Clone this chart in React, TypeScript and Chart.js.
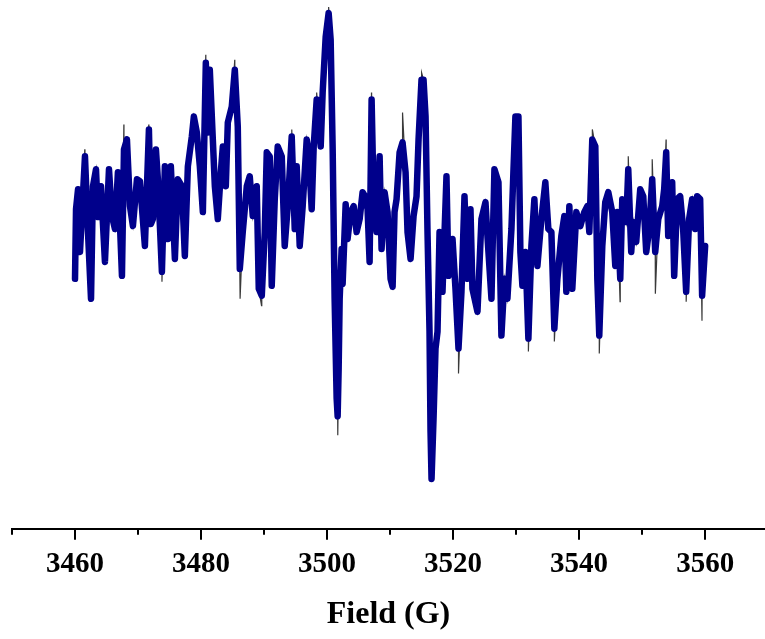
import React, { useEffect, useRef } from "react";
import { Chart, registerables } from "chart.js";

Chart.register(...registerables);

// Magnetic field (G) of each sample along the sweep
const fieldG: number[] = [
  3460.0, 3460.16, 3460.48, 3460.79, 3461.58, 3462.06, 3462.54, 3462.85, 3463.33, 3463.65,
  3464.12, 3464.75, 3465.39, 3465.86, 3466.34, 3466.81, 3467.45, 3467.77, 3468.24, 3468.72,
  3469.19, 3469.83, 3470.3, 3471.09, 3471.73, 3472.04, 3472.36, 3472.84, 3473.15, 3473.79,
  3474.26, 3474.74, 3475.21, 3475.85, 3476.32, 3476.96, 3477.43, 3477.91, 3478.54, 3478.86,
  3479.33, 3479.81, 3480.29, 3480.76, 3481.08, 3481.39, 3481.87, 3482.19, 3482.66, 3483.14,
  3483.46, 3483.93, 3484.25, 3484.88, 3485.36, 3485.83, 3486.15, 3486.62, 3487.26, 3487.73,
  3488.21, 3488.84, 3489.16, 3489.64, 3490.11, 3490.43, 3490.9, 3491.22, 3491.7, 3492.17,
  3492.81, 3493.28, 3493.76, 3494.39, 3494.87, 3495.18, 3495.66, 3496.13, 3496.77, 3497.08,
  3497.56, 3497.88, 3498.35, 3498.99, 3499.3, 3499.78, 3500.25, 3500.57, 3500.89, 3501.2,
  3501.52, 3501.68, 3501.84, 3502.0, 3502.31, 3502.47, 3502.95, 3503.26, 3503.74, 3504.22,
  3504.69, 3505.17, 3505.64, 3506.12, 3506.43, 3506.75, 3507.07, 3507.39, 3507.86, 3508.34,
  3508.65, 3509.13, 3509.6, 3510.08, 3510.4, 3510.71, 3511.03, 3511.51, 3511.98, 3512.46,
  3512.77, 3513.25, 3513.73, 3514.2, 3514.52, 3514.99, 3515.31, 3515.63, 3515.94, 3516.26,
  3516.42, 3516.58, 3516.9, 3517.21, 3517.53, 3517.85, 3518.32, 3518.95, 3519.27, 3519.91,
  3520.38, 3520.86, 3521.33, 3521.81, 3522.28, 3522.76, 3523.07, 3523.87, 3524.5, 3525.14,
  3525.45, 3526.09, 3526.56, 3527.2, 3527.67, 3528.15, 3528.62, 3529.26, 3529.57, 3529.89,
  3530.37, 3530.68, 3531.0, 3531.48, 3531.95, 3532.43, 3532.9, 3533.38, 3534.01, 3534.64,
  3535.12, 3535.6, 3536.07, 3536.55, 3537.18, 3537.66, 3537.97, 3538.45, 3538.92, 3539.56,
  3540.19, 3540.82, 3541.3, 3541.62, 3542.09, 3542.57, 3542.89, 3543.2, 3543.68, 3544.15,
  3544.63, 3545.26, 3545.74, 3546.05, 3546.53, 3546.85, 3547.48, 3547.8, 3548.27, 3548.59,
  3549.06, 3549.7, 3550.18, 3550.65, 3551.13, 3551.6, 3552.08, 3552.56, 3553.19, 3553.5,
  3553.82, 3554.14, 3554.77, 3555.09, 3555.56, 3556.04, 3556.51, 3556.99, 3557.46, 3557.94,
  3558.41, 3558.73, 3559.21, 3559.52, 3560.0,
];

// First-derivative EPR signal (arbitrary units)
const signalAU: number[] = [
  -65, 5, 25, -38, 58, -18, -85, 28, 45, -3,
  28, -48, 45, -2, -15, 42, -62, 65, 75, 8,
  -12, 35, 33, -32, 85, -10, -5, 65, 35, -58,
  48, -25, 48, -45, 35, 28, -42, 48, 78, 98,
  82, 48, 2, 152, 82, 145, 75, 28, -5, 42,
  68, 28, 92, 108, 145, 88, -55, -18, 28, 38,
  -2, 28, -75, -82, -18, 62, 58, -72, 15, 68,
  58, -32, 8, 78, -15, 48, -32, 8, 75, 62,
  5, 68, 115, 68, 122, 178, 202, 175, 65, -85,
  -185, -203, -155, -85, -35, -70, 10, -25, 2, 8,
  -18, -5, 22, 17, 5, -48, 115, 15, -18, 58,
  -35, 22, 2, -65, -73, 2, 15, 62, 72, 42,
  -18, -45, -2, 18, 75, 135, 135, 98, -18, -118,
  -218, -266, -205, -135, -118, -18, -78, 38, -62, -25,
  -75, -135, -78, 18, -65, 5, -75, -98, -5, 12,
  -22, -85, 45, 32, -122, -65, -85, -15, 42, 98,
  98, -38, -72, -38, -125, -32, 15, -52, -5, 32,
  -15, -18, -115, -65, -22, -2, -78, 8, -75, 2,
  -12, 2, 8, -18, 75, 68, -65, -122, -32, 12,
  22, 2, -52, 2, -65, 15, -8, 45, -38, -8,
  -28, 25, 18, -38, -15, 35, -38, -5, 8, 25,
  62, -22, 32, -62, 15, 18, -15, -78, -5, 15,
  -15, 18, 15, -82, -32,
];

// Single-sample noise spikes of the raw trace (field G, signal a.u.)
const spikeFieldG: number[] = [
  3461.55, 3467.75, 3471.7, 3473.8, 3480.75, 3485.35, 3486.2, 3489.6, 3494.4, 3498.35,
  3500.25, 3501.7, 3507.05, 3511.98, 3515.0, 3520.86, 3531.95, 3536.07, 3542.1, 3543.2,
  3546.5, 3547.8, 3551.6, 3552.1, 3553.8, 3556.99, 3559.5,
];
const spikeSignalAU: number[] = [
  65, 90, 90, -68, 160, 155, -85, -92, 85, 122,
  208, -222, 122, 102, 142, -160, -138, -128, 85, -140,
  -88, 58, 55, -80, 75, -88, -107,
];

// Labelled field ticks and the unlabelled ones between them
const majorTicksG: number[] = [3460, 3480, 3500, 3520, 3540, 3560];
const minorTicksG: number[] = [3450, 3470, 3490, 3510, 3530, 3550, 3570];

const SERIF = "'Liberation Serif', 'Times New Roman', serif";

const minorTickPlugin = {
  id: "minorTicks",
  afterDraw(chart: any) {
    const scale = chart.scales.x;
    const { ctx, chartArea } = chart;
    ctx.save();
    ctx.strokeStyle = "#000";
    ctx.lineWidth = 2;
    for (const v of minorTicksG) {
      const px = Math.round(scale.getPixelForValue(v));
      ctx.beginPath();
      ctx.moveTo(px, chartArea.bottom);
      ctx.lineTo(px, chartArea.bottom + 6);
      ctx.stroke();
    }
    ctx.restore();
  },
};

export default function App() {
  const canvasRef = useRef<HTMLCanvasElement | null>(null);

  useEffect(() => {
    if (!canvasRef.current) return;
    const smooth = fieldG.map((x, i) => ({ x, y: signalAU[i] }));
    // raw trace: the smoothed samples with the noise spikes put back in
    const raw = smooth
      .concat(spikeFieldG.map((x, i) => ({ x, y: spikeSignalAU[i] })))
      .sort((a, b) => a.x - b.x);
    const chart = new Chart(canvasRef.current, {
      type: "line",
      data: {
        datasets: [
          {
            data: smooth,
            borderColor: "#00008b",
            borderWidth: 6.5,
            borderJoinStyle: "round",
            borderCapStyle: "round",
            pointRadius: 0,
            tension: 0,
            fill: false,
            order: 1,
          },
          {
            data: raw,
            borderColor: "#3a3a3a",
            borderWidth: 1.2,
            pointRadius: 0,
            tension: 0,
            fill: false,
            order: 2,
          },
        ],
      },
      options: {
        animation: false,
        responsive: false,
        devicePixelRatio: 1,
        layout: { padding: { left: 12, right: 0, top: 0, bottom: 5 } },
        plugins: { legend: { display: false }, tooltip: { enabled: false } },
        scales: {
          x: {
            type: "linear",
            min: 3450,
            max: 3569.5,
            afterBuildTicks: (scale: any) => {
              scale.ticks = majorTicksG.map((value) => ({ value }));
            },
            grid: {
              drawOnChartArea: false,
              drawTicks: true,
              tickLength: 11,
              color: "#000",
              lineWidth: 2,
            },
            border: { display: true, color: "#000", width: 2 },
            ticks: {
              color: "#000",
              padding: 7,
              maxRotation: 0,
              font: { family: SERIF, weight: "bold", size: 29 },
              callback: (v: any) => String(v),
            },
            title: {
              display: true,
              text: "Field (G)",
              color: "#000",
              font: { family: SERIF, weight: "bold", size: 32 },
              padding: { top: 7, bottom: 0 },
            },
          },
          y: {
            display: false,
            min: -316,
            max: 215,
          },
        },
      },
      plugins: [minorTickPlugin],
    });
    return () => chart.destroy();
  }, []);

  return (
    <div style={{ position: "fixed", left: 0, top: 0, width: 765, height: 639, background: "#fff" }}>
      <canvas ref={canvasRef} width={765} height={639} />
    </div>
  );
}
